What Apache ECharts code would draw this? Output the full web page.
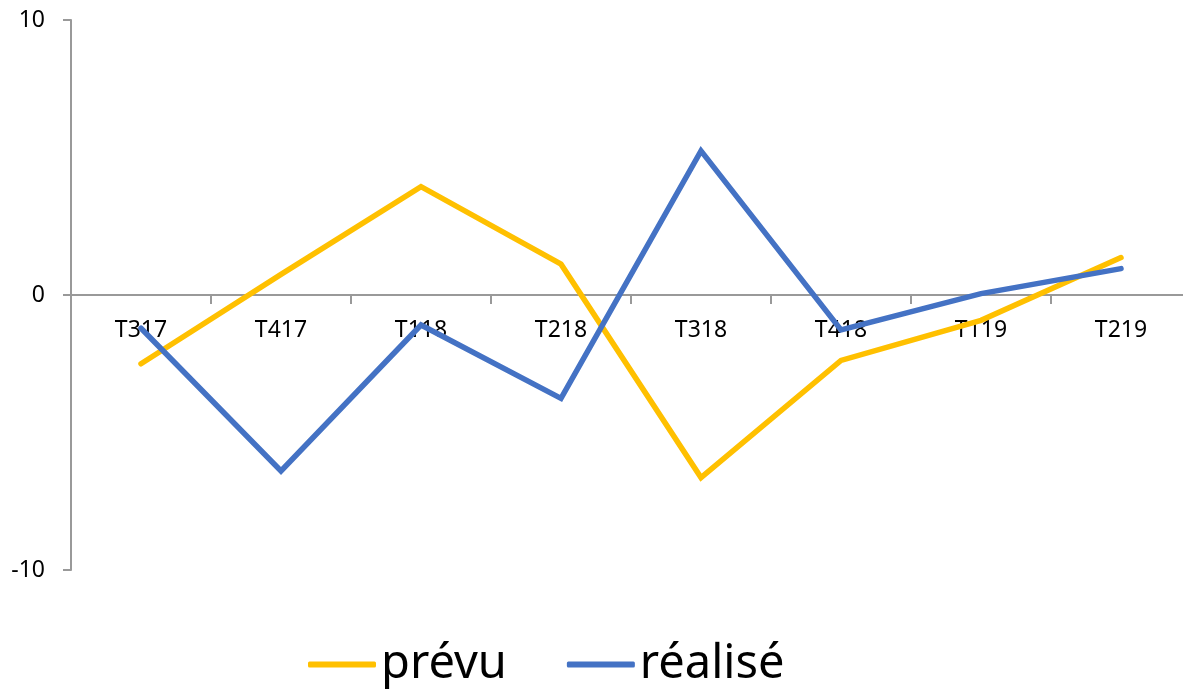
<!DOCTYPE html>
<html>
<head>
<meta charset="utf-8">
<script src="https://cdn.jsdelivr.net/npm/echarts@6/dist/echarts.min.js"></script>
<style>html,body{margin:0;padding:0;background:#fff}#c{width:1183px;height:691px}</style>
</head>
<body>
<div id="c"></div>
<script>
const categories = ['T317','T417','T118','T218','T318','T418','T119','T219'];
const prevu = [-2.5, 0.75, 3.94, 1.12, -6.64, -2.38, -0.92, 1.36];
const realise = [-1.21, -6.4, -1.09, -3.76, 5.24, -1.27, 0.05, 0.96];
const yTicks = { min: -10, max: 10, interval: 10 };

const W = 1183, H = 691;
const gridTop = 20, gridBottom = 121;
const gridH = H - gridTop - gridBottom;
// place the category axis on the value 0
const zeroOffset = -gridH * (0 - yTicks.min) / (yTicks.max - yTicks.min);

const chart = echarts.init(document.getElementById('c'));
const font = 'Noto Sans';
chart.setOption({
  animation: false,
  backgroundColor: '#ffffff',
  grid: { left: 71, width: 1120, top: gridTop, bottom: gridBottom, containLabel: false, outerBoundsMode: 'none' },
  legend: {
    left: 308, top: 641, padding: 0,
    icon: 'roundRect', itemWidth: 68, itemHeight: 6, itemGap: 60,
    textStyle: { fontFamily: font, fontSize: 47, color: '#000' },
    data: ['prévu', 'réalisé']
  },
  xAxis: {
    type: 'category', data: categories, boundaryGap: true,
    offset: zeroOffset,
    axisLine: { onZero: false, lineStyle: { color: '#999', width: 2 } },
    axisTick: { show: true, length: 9, lineStyle: { color: '#999', width: 2 }, alignWithLabel: false },
    axisLabel: { fontFamily: font, fontSize: 23, color: '#000', margin: 24, interval: 0 },
    splitLine: { show: false }
  },
  yAxis: {
    type: 'value', min: yTicks.min, max: yTicks.max, interval: yTicks.interval,
    axisLine: { show: true, lineStyle: { color: '#999', width: 2 } },
    axisTick: { show: true, length: 8, lineStyle: { color: '#999', width: 2 } },
    axisLabel: { fontFamily: font, fontSize: 23, color: '#000', margin: 26 },
    splitLine: { show: false }
  },
  series: [
    { name: 'prévu', type: 'line', data: prevu, symbol: 'none', color: '#FFC000', z: 2,
      lineStyle: { width: 5.5, color: '#FFC000', cap: 'round', join: 'miter' } },
    { name: 'réalisé', type: 'line', data: realise, symbol: 'none', color: '#4472C4', z: 3,
      lineStyle: { width: 5.5, color: '#4472C4', cap: 'round', join: 'miter' } }
  ]
});
</script>
</body>
</html>
